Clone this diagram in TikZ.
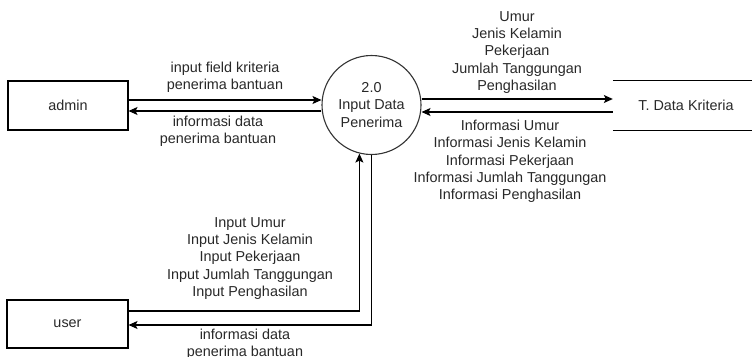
\documentclass[tikz,border=0pt]{standalone}
\usepackage{fontspec}
\setmainfont{Liberation Sans}
\usetikzlibrary{arrows.meta}
\definecolor{txt}{RGB}{40,40,40}
\tikzset{
  ent/.style={draw=black, line width=1.1pt, minimum width=120pt, minimum height=49pt, inner sep=0pt, font=\fontsize{14.4}{17.3}\selectfont, text=txt},
  proc/.style={draw=black!80, line width=1.1pt, circle, minimum size=99pt, inner sep=0pt, align=center, font=\fontsize{14.4}{17.3}\selectfont, text=txt},
  lbl/.style={align=center, inner sep=0pt, font=\fontsize{14.4}{17.3}\selectfont, text=txt},
  flow/.style={line width=1.1pt, -{Stealth[length=9pt,width=8pt,inset=2pt]}},
  store/.style={minimum width=146pt, minimum height=49pt, inner sep=0pt, font=\fontsize{14.4}{17.3}\selectfont, text=txt}
}
\begin{document}
\begin{tikzpicture}[x=1pt,y=-1pt]
\useasboundingbox (0,0) rectangle (752,356);
\node[ent] (admin) at (68,105.5) {admin};
\node[ent, minimum width=121pt, minimum height=48pt] (user) at (67.5,324) {user};
\node[proc] (p) at (371.5,105) {2.0\\Input Data\\Penerima};
\node[store] (krit) at (686,105.5) {T. Data Kriteria};
\draw[line width=1.1pt] (krit.north west) -- (krit.north east);
\draw[line width=1.1pt] (krit.south west) -- (krit.south east);

\draw[flow] ([yshift=5.5pt]admin.east) -- ([yshift=5.5pt]admin.east -| p.west);
\draw[flow] ([yshift=-5.5pt]admin.east -| p.west) -- ([yshift=-5.5pt]admin.east);
\draw[flow] (p.east |- 0,99) -- (krit.west |- 0,99);
\draw[flow] (krit.west |- 0,112) -- (p.east |- 0,112);
\draw[flow] ([yshift=13pt]user.east) -| (p.256.5);
\draw[flow] (p.south) |- ([yshift=-1pt]user.east);

\node[lbl] (l1) at (225,77) {input field kriteria\\penerima bantuan};
\node[lbl] (l2) at (218,131.5) {informasi data\\penerima bantuan};
\node[lbl] (l3) at (517,52.5) {Umur\\Jenis Kelamin\\Pekerjaan\\Jumlah Tanggungan\\Penghasilan};
\node[lbl] (l4) at (510,161.5) {Informasi Umur\\Informasi Jenis Kelamin\\Informasi Pekerjaan\\Informasi Jumlah Tanggungan\\Informasi Penghasilan};
\node[lbl] (l5) at (250,258.5) {Input Umur\\Input Jenis Kelamin\\Input Pekerjaan\\Input Jumlah Tanggungan\\Input Penghasilan};
\node[lbl] (l6) at (245,344) {informasi data\\penerima bantuan};
\end{tikzpicture}
\end{document}
